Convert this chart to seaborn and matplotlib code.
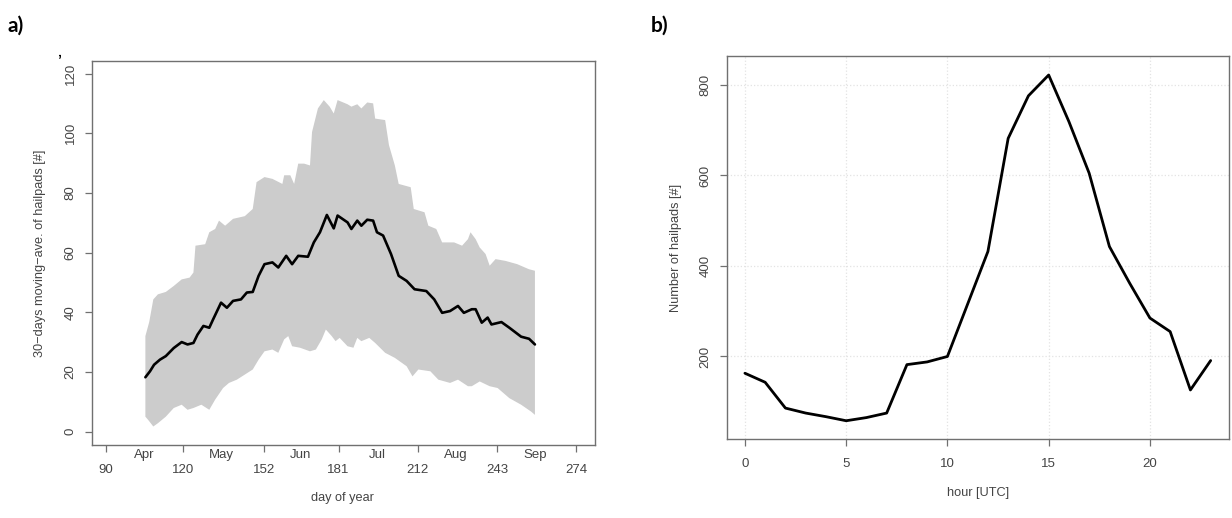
import numpy as np
import matplotlib
matplotlib.use("Agg")
import matplotlib.pyplot as plt
import seaborn as sns

# ---------------- data: panel a (30-day moving average of hailpads) ----------------
mean_day = [105.4, 107.2, 108.8, 111.1, 113.4, 116.5, 119.6, 121.9, 124.2, 125.8,
            128.1, 130.4, 131.9, 135.0, 137.3, 139.7, 142.8, 145.1, 147.4, 149.7,
            152.0, 155.1, 157.4, 160.5, 162.8, 165.2, 169.0, 171.3, 173.7, 176.4,
            179.1, 180.6, 184.5, 186.0, 188.3, 189.9, 192.2, 194.5, 196.0, 198.4,
            201.5, 204.5, 207.6, 210.7, 215.3, 218.4, 221.5, 224.6, 227.7, 230.0,
            233.1, 234.6, 237.0, 239.3, 240.8, 244.7, 247.8, 252.4, 255.5, 257.8]
mean_val = [18.2, 20.2, 22.4, 24.1, 25.3, 28.0, 30.0, 29.2, 29.7, 32.5,
            35.4, 34.8, 37.6, 43.2, 41.5, 43.8, 44.3, 46.6, 46.8, 52.2,
            56.1, 56.7, 55.0, 58.9, 56.1, 58.9, 58.6, 63.4, 66.8, 72.6,
            68.1, 72.4, 70.1, 67.9, 70.7, 69.0, 71.0, 70.7, 66.8, 65.7,
            59.5, 52.2, 50.5, 47.7, 47.1, 44.3, 39.8, 40.4, 42.1, 39.8,
            41.0, 41.0, 36.5, 38.2, 35.9, 36.7, 34.8, 31.8, 31.1, 29.2]

upper_day = [105.4, 106.9, 108.5, 110.3, 113.4, 116.5, 119.6, 122.7, 124.2, 125.0,
             128.8, 130.4, 132.7, 134.2, 136.6, 138.1, 139.7, 144.3, 147.4, 148.9,
             152.0, 155.1, 159.0, 159.7, 162.1, 163.6, 165.2, 167.5, 169.8, 170.6,
             172.9, 175.2, 177.5, 179.1, 180.6, 184.5, 186.0, 188.3, 189.9, 192.2,
             194.5, 195.3, 199.2, 200.7, 203.0, 204.5, 209.2, 210.4, 214.6, 216.1,
             219.2, 221.5, 226.2, 229.3, 231.6, 232.6, 234.6, 236.2, 238.5, 240.1,
             242.4, 246.3, 250.9, 255.5, 257.8]
upper_val = [32.0, 36.7, 44.3, 46.0, 46.8, 48.8, 51.0, 51.6, 53.3, 62.3,
             62.8, 66.8, 67.9, 70.7, 69.0, 70.1, 71.3, 72.2, 74.6, 83.6,
             85.3, 84.7, 83.0, 85.9, 85.9, 83.0, 89.8, 89.8, 89.2, 100.4,
             108.3, 111.1, 108.9, 106.6, 111.1, 109.7, 108.9, 109.7, 108.3, 110.3,
             110.0, 104.9, 104.4, 96.0, 89.2, 83.0, 81.9, 74.6, 73.5, 69.0,
             67.9, 63.4, 63.4, 62.3, 64.5, 66.8, 64.5, 61.7, 59.5, 55.6,
             57.8, 57.2, 56.1, 54.4, 53.9]

lower_day = [105.4, 106.5, 108.5, 110.3, 113.4, 116.5, 119.6, 121.9, 124.2, 127.3,
             130.4, 132.7, 135.8, 138.1, 141.2, 144.3, 147.4, 149.7, 152.0, 155.1,
             157.4, 159.7, 161.3, 162.8, 165.9, 169.8, 172.1, 174.4, 176.0, 178.3,
             179.8, 181.4, 184.5, 186.8, 188.3, 189.9, 193.0, 195.3, 199.2, 203.0,
             207.6, 209.9, 212.2, 216.9, 220.0, 224.6, 227.7, 231.6, 233.1, 236.2,
             240.1, 243.2, 247.8, 252.4, 256.3, 257.8]
lower_val = [5.0, 3.9, 1.7, 2.8, 5.0, 7.9, 9.0, 7.3, 7.9, 9.0,
             7.3, 10.7, 14.6, 16.3, 17.4, 19.1, 20.8, 24.1, 26.9, 27.5,
             26.4, 30.9, 32.0, 28.6, 28.1, 26.9, 27.5, 30.9, 34.2, 32.0,
             30.3, 31.4, 28.6, 28.1, 31.4, 30.3, 31.4, 29.7, 26.4, 24.7,
             21.9, 18.5, 20.8, 20.2, 17.4, 16.3, 17.4, 15.2, 15.2, 16.8,
             15.2, 14.6, 11.2, 9.0, 6.7, 5.6]

doy_ticks = [90, 120, 152, 181, 212, 243, 274]
month_pos = [105, 135, 166, 196, 227, 258]
month_labels = ["Apr", "May", "Jun", "Jul", "Aug", "Sep"]
a_yticks = [0, 20, 40, 60, 80, 100, 120]

# ---------------- data: panel b (diurnal cycle) ----------------
hours = list(range(24))
hailpads = [163, 143, 86, 75, 67, 58, 65, 75, 182, 188, 200, 316,
            432, 682, 776, 822, 719, 605, 443, 362, 285, 255, 126, 191]
b_xticks = [0, 5, 10, 15, 20]
b_yticks = [200, 400, 600, 800]

# ---------------- style ----------------
sns.set_style("ticks")
plt.rcParams["font.family"] = ["Liberation Sans", "DejaVu Sans"]
TXT = "#444444"
SPINE = "#707070"
TICK_FS = 9.5
LAB_FS = 9.2

fig = plt.figure(figsize=(12.32, 5.18), dpi=100)
ax1 = fig.add_axes([0.07443, 0.14093, 0.40852, 0.74131])
ax2 = fig.add_axes([0.58985, 0.15193, 0.40795, 0.73996])

for ax in (ax1, ax2):
    for s in ax.spines.values():
        s.set_visible(True)
        s.set_color(SPINE)
        s.set_linewidth(1.0)
    ax.tick_params(axis="both", which="major", direction="out", length=5,
                   width=0.9, color=SPINE, labelsize=TICK_FS, labelcolor=TXT)
    ax.tick_params(axis="y", labelrotation=90, pad=5.8)

# ---- panel a ----
ax1.fill(np.r_[upper_day, lower_day[::-1]], np.r_[upper_val, lower_val[::-1]],
         color="#cccccc", lw=0, zorder=1)
sns.lineplot(x=mean_day, y=mean_val, ax=ax1, color="black", lw=1.9,
             estimator=None, sort=False, zorder=3)
ax1.set_xlim(84.4, 281.3)
ax1.set_ylim(-4.5, 124.2)
ax1.set_xticks(doy_ticks)
ax1.set_xticklabels([str(t) for t in doy_ticks])
ax1.tick_params(axis="x", which="major", pad=8.5)
ax1.set_xticks(month_pos, minor=True)
ax1.set_xticklabels(month_labels, minor=True)
ax1.tick_params(axis="x", which="minor", length=0, pad=3.0,
                labelsize=TICK_FS, labelcolor=TXT)
ax1.set_yticks(a_yticks)
for lab in ax1.get_yticklabels():
    lab.set_va("center")
ax1.set_xlabel("day of year", fontsize=LAB_FS, color=TXT, va="center")
ax1.xaxis.set_label_coords(0.499, -0.138)
ax1.set_ylabel("30\u2212days moving\u2212ave. of hailpads [#]", fontsize=LAB_FS,
               color=TXT, va="center")
ax1.yaxis.set_label_coords(-0.1037, 0.5)

# ---- panel b ----
for xv in b_xticks:
    ax2.axvline(xv, color="#e3e3e3", ls=":", lw=0.9, zorder=0)
for yv in b_yticks:
    ax2.axhline(yv, color="#e3e3e3", ls=":", lw=0.9, zorder=0)
sns.lineplot(x=hours, y=hailpads, ax=ax2, color="black", lw=2.0,
             estimator=None, sort=False, zorder=3)
ax2.set_xlim(-0.9, 23.92)
ax2.set_ylim(17, 864)
ax2.set_xticks(b_xticks)
ax2.tick_params(axis="x", which="major", pad=8.5)
ax2.set_yticks(b_yticks)
for lab in ax2.get_yticklabels():
    lab.set_va("center")
ax2.set_xlabel("hour [UTC]", fontsize=LAB_FS, color=TXT, va="center")
ax2.xaxis.set_label_coords(0.5, -0.140)
ax2.set_ylabel("Number of hailpads [#]", fontsize=LAB_FS, color=TXT, va="center")
ax2.yaxis.set_label_coords(-0.1009, 0.5)

# ---- panel letters ----
fig.text(8 / 1232, 1 - 26 / 518, "a)", fontsize=15, fontweight="bold",
         family=["Lato", "DejaVu Sans"], ha="left", va="center", color="black")
fig.text(651 / 1232, 1 - 26 / 518, "b)", fontsize=15, fontweight="bold",
         family=["Lato", "DejaVu Sans"], ha="left", va="center", color="black")
fig.text(59 / 1232, 1 - 60 / 518, "\u02bc", fontsize=10, fontweight="bold",
         ha="center", va="center", color="black")

fig.savefig("out.png", dpi=100, facecolor="white")
